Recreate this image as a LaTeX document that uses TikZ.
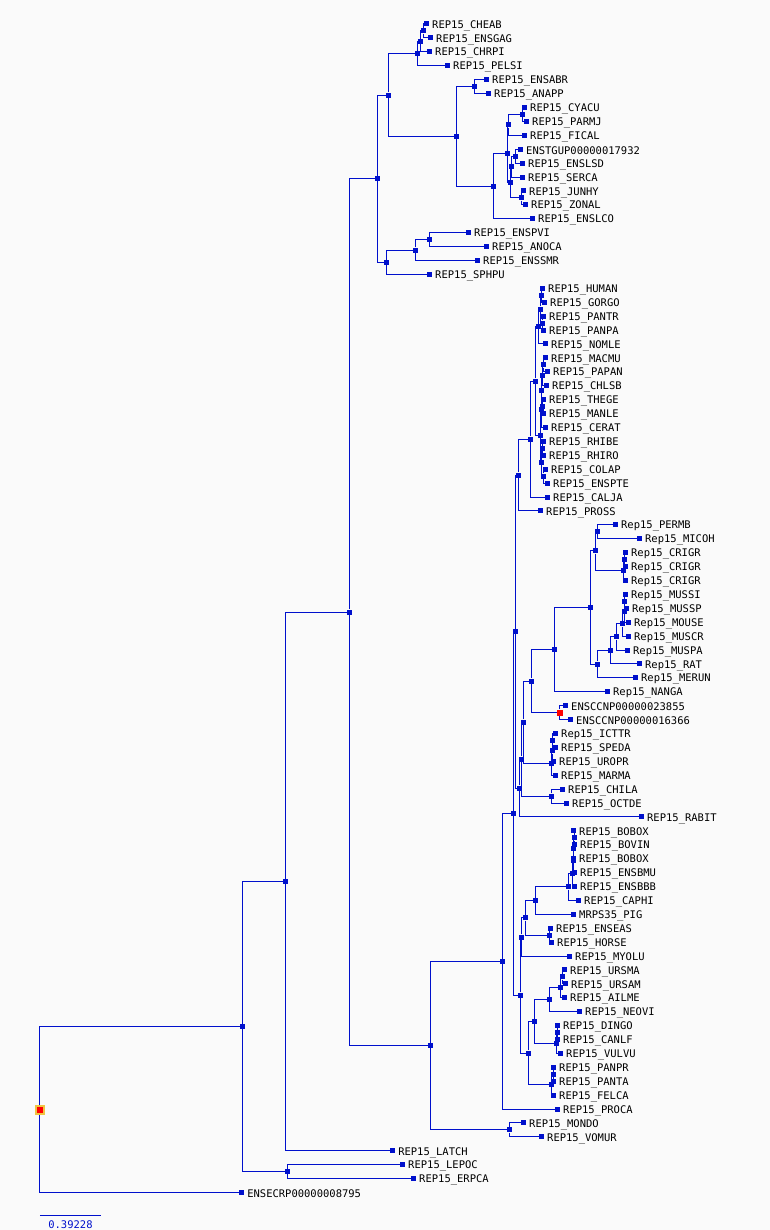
\documentclass[tikz,border=0pt]{standalone}
\usepackage{fontspec}
\setmonofont{DejaVu Sans Mono}
\definecolor{treeblue}{RGB}{0,16,204}
\definecolor{rootrim}{RGB}{240,196,64}
\definecolor{paper}{RGB}{250,250,250}

\begin{document}
\begin{tikzpicture}[x=1pt,y=-1pt,
    tip/.style={rectangle,fill=treeblue,inner sep=0pt,minimum size=5pt},
    knot/.style={tip},
    redknot/.style={rectangle,fill=red,inner sep=0pt,minimum size=6pt},
    rootknot/.style={rectangle,fill=red,draw=rootrim,line width=2pt,inner sep=0pt,minimum size=8pt},
    tag/.style={font=\ttfamily\fontsize{10.5}{11}\selectfont,inner sep=1pt,text=black,label distance=1.5pt,yshift=-1.5pt},
    br/.style={draw=treeblue,line width=1pt}]
    \fill[paper] (0,0) rectangle (770,1230);

    % leaves
    \foreach \n/\x/\y/\lab in {
        CHEAB/427/24.0/REP15\_CHEAB, ENSGAG/431/37.9/REP15\_ENSGAG, CHRPI/430/51.8/REP15\_CHRPI,
        PELSI/448/65.8/REP15\_PELSI, ENSABR/487/79.7/REP15\_ENSABR, ANAPP/489/93.6/REP15\_ANAPP,
        CYACU/525/107.5/REP15\_CYACU, PARMJ/527/121.4/REP15\_PARMJ, FICAL/525/135.3/REP15\_FICAL,
        ENSTGUP/521/149.3/ENSTGUP00000017932, ENSLSD/523/163.2/REP15\_ENSLSD, SERCA/523/177.1/REP15\_SERCA,
        JUNHY/524/191.0/REP15\_JUNHY, ZONAL/526/204.9/REP15\_ZONAL, ENSLCO/533/218.8/REP15\_ENSLCO,
        ENSPVI/469/232.8/REP15\_ENSPVI, ANOCA/487/246.7/REP15\_ANOCA, ENSSMR/478/260.6/REP15\_ENSSMR,
        SPHPU/430/274.5/REP15\_SPHPU,
        HUMAN/543/288.4/REP15\_HUMAN, GORGO/545/302.3/REP15\_GORGO, PANTR/544/316.2/REP15\_PANTR,
        PANPA/544/330.2/REP15\_PANPA, NOMLE/546/344.1/REP15\_NOMLE, MACMU/546/358.0/REP15\_MACMU,
        PAPAN/548/371.9/REP15\_PAPAN, CHLSB/547/385.8/REP15\_CHLSB, THEGE/544/399.8/REP15\_THEGE,
        MANLE/544/413.7/REP15\_MANLE, CERAT/546/427.6/REP15\_CERAT, RHIBE/544/441.5/REP15\_RHIBE,
        RHIRO/544/455.4/REP15\_RHIRO, COLAP/546/469.3/REP15\_COLAP, ENSPTE/548/483.3/REP15\_ENSPTE,
        CALJA/548/497.2/REP15\_CALJA, PROSS/541/511.1/REP15\_PROSS,
        PERMB/616/525.0/Rep15\_PERMB, MICOH/640/538.9/Rep15\_MICOH, CRIGRa/626/552.8/Rep15\_CRIGR,
        CRIGRb/626/566.8/Rep15\_CRIGR, CRIGRc/626/580.7/Rep15\_CRIGR, MUSSI/626/594.6/Rep15\_MUSSI,
        MUSSP/627/608.5/Rep15\_MUSSP, MOUSE/629/622.4/Rep15\_MOUSE, MUSCR/629/636.3/Rep15\_MUSCR,
        MUSPA/628/650.3/Rep15\_MUSPA, RAT/640/664.2/Rep15\_RAT, MERUN/636/678.1/Rep15\_MERUN,
        NANGA/608/692.0/Rep15\_NANGA, CCNPa/566/705.9/ENSCCNP00000023855, CCNPb/571/719.8/ENSCCNP00000016366,
        ICTTR/556/733.8/Rep15\_ICTTR, SPEDA/556/747.7/REP15\_SPEDA, UROPR/554/761.6/REP15\_UROPR,
        MARMA/556/775.5/REP15\_MARMA, CHILA/563/789.4/REP15\_CHILA, OCTDE/567/803.3/REP15\_OCTDE,
        RABIT/642/817.3/REP15\_RABIT,
        BOBOXa/574/831.2/REP15\_BOBOX, BOVIN/575/845.1/REP15\_BOVIN, BOBOXb/574/859.0/REP15\_BOBOX,
        ENSBMU/575/872.9/REP15\_ENSBMU, ENSBBB/575/886.8/REP15\_ENSBBB, CAPHI/579/900.8/REP15\_CAPHI,
        PIG/574/914.7/MRPS35\_PIG, ENSEAS/551/928.6/REP15\_ENSEAS, HORSE/552/942.5/REP15\_HORSE,
        MYOLU/570/956.4/REP15\_MYOLU, URSMA/565/970.3/REP15\_URSMA, URSAM/566/984.3/REP15\_URSAM,
        AILME/565/998.2/REP15\_AILME, NEOVI/580/1012.1/REP15\_NEOVI, DINGO/558/1026.0/REP15\_DINGO,
        CANLF/558/1039.9/REP15\_CANLF, VULVU/561/1053.8/REP15\_VULVU, PANPR/554/1067.8/REP15\_PANPR,
        PANTA/554/1081.7/REP15\_PANTA, FELCA/554/1095.6/REP15\_FELCA, PROCA/558/1109.5/REP15\_PROCA,
        MONDO/524/1123.4/REP15\_MONDO, VOMUR/542/1137.3/REP15\_VOMUR, LATCH/393/1151.3/REP15\_LATCH,
        LEPOC/403/1165.2/REP15\_LEPOC, ERPCA/414/1179.1/REP15\_ERPCA, ENSECRP/242/1193.0/ENSECRP00000008795}
        {\node[tip,label={[tag]right:\lab}] (\n) at (\x,\y) {};}

    % inner nodes
    \foreach \n/\x/\y in {
        t1/424/31.0, t2/421/41.4, t3/418/53.6, t4/475/86.7, t5/523/114.5, t6/509/124.9,
        t7/516/156.3, t8/512/166.7, t9/522/198.0, t10/511/182.4, t11/508/153.7, t12/494/186.3,
        t13/457/136.5, t14/389/95.1, s1/430/239.8, s2/416/250.2, s3/387/262.4, s4/378/178.8,
        p1/542/295.4, p2/543/323.2, p3/541/309.3, p4/539/326.7, p5/544/365.0, p6/543/375.4,
        p7/543/406.8, p8/542/391.1, p9/541.5/409.4, p10/543/448.5, p11/544/476.3, p12/542/462.4,
        p13/540.5/435.9, p14/536/381.3, p15/531/439.3, p16/519/475.2,
        r1/598/532.0, r2/625/559.8, r3/624/570.3, r4/596/551.1, r5/625/601.6, r6/624.5/612.0,
        r7/623/624.2, r8/617/637.2, r9/611/650.7, r10/598/664.4, r11/591/607.8, r12/555/649.9,
        r14/532/681.4, r15/553/740.8, r16/552.5/751.2, r17/552/763.4, r18/524/722.4,
        r19/552/796.4, r20/522/759.4, r21/520/788.4, e1/516/631.8,
        b1/574.5/838.2, b2/574/848.6, b3/573.5/860.8, b4/573/873.8, b5/569/887.3, b6/536/901.0,
        b7/550/935.6, b8/526/918.3, b9/522/937.4, c1/563/977.3, c2/561/987.8, c3/550/999.9,
        c4/557.5/1033.0, c5/557/1043.4, c6/535/1021.7, c7/553.5/1074.7, c8/552/1085.2,
        c9/529/1053.4, c10/521/995.4, e2/514/813.6, e3/503/961.6, m1/510/1130.4,
        E/431/1046.0, C/350/612.4, B/286/881.9, f1/288/1172.2, A/243/1027.0}
        {\node[knot] (\n) at (\x,\y) {};}
    \node[redknot] (r13) at (560,712.9) {};
    \node[rootknot] (root) at (40,1110) {};

    % branches
    \foreach \a/\b in {
        t1/CHEAB, t1/ENSGAG, t2/t1, t2/CHRPI, t3/t2, t3/PELSI, t4/ENSABR, t4/ANAPP,
        t5/CYACU, t5/PARMJ, t6/t5, t6/FICAL, t7/ENSTGUP, t7/ENSLSD, t8/t7, t8/SERCA,
        t9/JUNHY, t9/ZONAL, t10/t8, t10/t9, t11/t6, t11/t10, t12/t11, t12/ENSLCO,
        t13/t4, t13/t12, t14/t3, t14/t13, s1/ENSPVI, s1/ANOCA, s2/s1, s2/ENSSMR,
        s3/s2, s3/SPHPU, s4/t14, s4/s3,
        p1/HUMAN, p1/GORGO, p2/PANTR, p2/PANPA, p3/p1, p3/p2, p4/p3, p4/NOMLE,
        p5/MACMU, p5/PAPAN, p6/p5, p6/CHLSB, p7/THEGE, p7/MANLE, p8/p6, p8/p7,
        p9/p8, p9/CERAT, p10/RHIBE, p10/RHIRO, p11/COLAP, p11/ENSPTE, p12/p10, p12/p11,
        p13/p9, p13/p12, p14/p4, p14/p13, p15/p14, p15/CALJA, p16/p15, p16/PROSS,
        r1/PERMB, r1/MICOH, r2/CRIGRa, r2/CRIGRb, r3/r2, r3/CRIGRc, r4/r1, r4/r3,
        r5/MUSSI, r5/MUSSP, r6/r5, r6/MOUSE, r7/r6, r7/MUSCR, r8/r7, r8/MUSPA,
        r9/r8, r9/RAT, r10/r9, r10/MERUN, r11/r4, r11/r10, r12/r11, r12/NANGA,
        r13/CCNPa, r13/CCNPb, r14/r12, r14/r13, r15/ICTTR, r15/SPEDA, r16/r15, r16/UROPR,
        r17/r16, r17/MARMA, r18/r14, r18/r17, r19/CHILA, r19/OCTDE, r20/r18, r20/r19,
        r21/r20, r21/RABIT, e1/p16, e1/r21,
        b1/BOBOXa, b1/BOVIN, b2/b1, b2/BOBOXb, b3/b2, b3/ENSBMU, b4/b3, b4/ENSBBB,
        b5/b4, b5/CAPHI, b6/b5, b6/PIG, b7/ENSEAS, b7/HORSE, b8/b6, b8/b7, b9/b8, b9/MYOLU,
        c1/URSMA, c1/URSAM, c2/c1, c2/AILME, c3/c2, c3/NEOVI, c4/DINGO, c4/CANLF,
        c5/c4, c5/VULVU, c6/c3, c6/c5, c7/PANPR, c7/PANTA, c8/c7, c8/FELCA,
        c9/c6, c9/c8, c10/b9, c10/c9, e2/e1, e2/c10, e3/e2, e3/PROCA,
        m1/MONDO, m1/VOMUR, E/e3, E/m1, C/s4, C/E, B/C, B/LATCH,
        f1/LEPOC, f1/ERPCA, A/B, A/f1, root/A, root/ENSECRP}
        {\draw[br] (\a) |- (\b);}

    % scale
    \coordinate (sbl) at (40,1216);
    \coordinate (sbr) at (101,1216);
    \draw[br,line width=1.6pt] (sbl) -- (sbr);
    \node[tag,text=treeblue] (sbv) at (70.5,1224) {0.39228};
\end{tikzpicture}
\end{document}
